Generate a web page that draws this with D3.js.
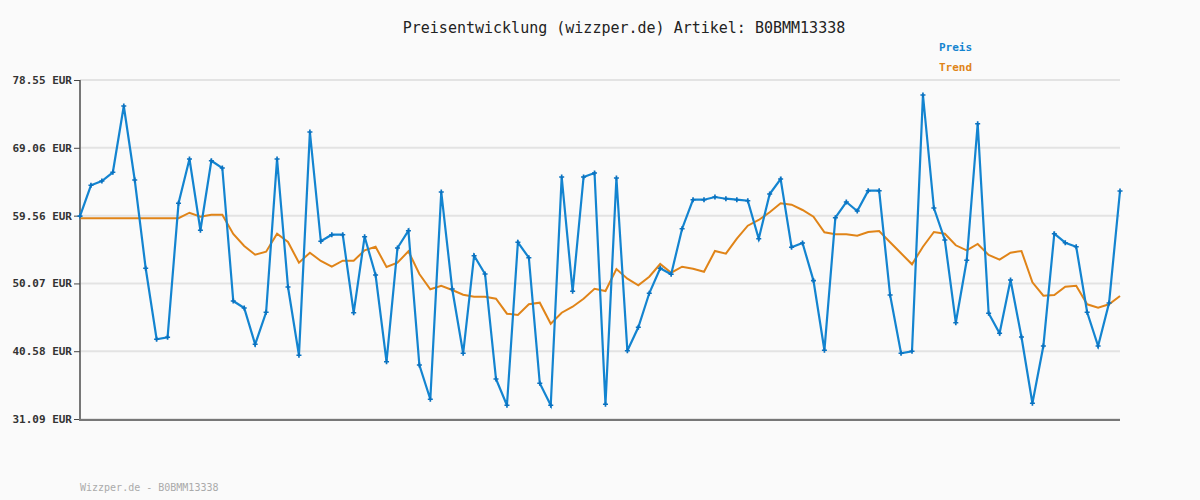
<!DOCTYPE html>
<html><head><meta charset="utf-8">
<script src="https://cdn.jsdelivr.net/npm/d3@7"></script>
<style>body{margin:0;background:#fafafa}</style>
</head><body><svg width="1200" height="500"></svg>
<script>
var preis = [59.5,63.81,64.41,65.63,74.91,64.55,52.19,42.25,42.53,61.29,67.49,57.51,67.25,66.23,47.61,46.63,41.55,46.03,67.49,49.57,
  40.01,71.27,55.97,56.89,56.89,45.97,56.61,51.25,39.11,55.03,57.45,38.65,33.85,62.87,49.29,40.29,53.95,51.39,36.69,33.01,
  55.83,53.67,36.09,33.01,64.97,48.97,64.97,65.53,33.15,64.83,40.65,43.93,48.69,52.19,51.35,57.73,61.79,61.79,62.17,61.93,
  61.79,61.65,56.33,62.59,64.69,55.13,55.73,50.47,40.71,59.27,61.47,60.21,63.05,63.05,48.45,40.29,40.57,76.45,60.63,56.15,
  44.57,53.31,72.43,45.89,43.09,50.55,42.57,33.29,41.31,57.03,55.77,55.21,46.03,41.31,47.33,63.01];
var trend = [59.2,59.2,59.2,59.2,59.2,59.2,59.2,59.2,59.2,59.2,59.97,59.41,59.69,59.69,56.99,55.31,54.09,54.51,57.03,55.87,
  52.97,54.37,53.21,52.41,53.25,53.25,54.71,55.21,52.37,52.97,54.57,51.39,49.25,49.75,49.15,48.49,48.21,48.21,47.93,45.83,
  45.65,47.15,47.37,44.43,45.97,46.81,47.93,49.33,49.01,52.09,50.73,49.81,51.01,52.79,51.57,52.41,52.13,51.71,54.61,54.23,
  56.33,58.15,58.95,60.03,61.29,61.09,60.35,59.41,57.23,56.95,56.95,56.75,57.27,57.41,55.83,54.29,52.75,55.21,57.27,57.03,
  55.41,54.71,55.59,54.05,53.39,54.37,54.61,50.23,48.35,48.45,49.61,49.75,47.15,46.67,47.15,48.31];
var yTicks = [31.09,40.58,50.07,59.56,69.06,78.55];
var artikel = "B0BMM13338";

var svg = d3.select("svg");
var font = "'DejaVu Sans Mono', monospace";
var x = d3.scaleLinear().domain([0, preis.length - 1]).range([80, 1120]);
var y = d3.scaleLinear().domain([31.09, 78.55]).range([419, 80]);

svg.append("g").selectAll("line").data(yTicks).enter().append("line")
  .attr("x1", 80).attr("x2", 1120).attr("y1", y).attr("y2", y)
  .style("stroke", "#e3e3e3").style("stroke-width", 2);

svg.append("g").attr("transform", "translate(80,0)")
  .call(d3.axisLeft(y).tickValues(yTicks).tickSize(6).tickPadding(2).tickFormat(function(d){ return d.toFixed(2) + " EUR"; }))
  .call(function(g){
    g.select(".domain").attr("stroke", "#777").attr("stroke-width", 2).attr("d", "M0,80V420");
    g.selectAll(".tick line").attr("stroke", "#444");
    g.selectAll("text").style("font-family", font).style("font-size", "11px").style("font-weight", "bold").attr("fill", "#333");
  });
svg.append("line").attr("x1", 79).attr("x2", 1120).attr("y1", 420).attr("y2", 420)
  .style("stroke", "#777").style("stroke-width", 2);

var line = function(arr){ return d3.line().x(function(d, i){ return x(i); }).y(function(d){ return y(d); })(arr); };
svg.append("path").attr("d", line(trend)).attr("fill", "none").style("stroke", "#e08418").style("stroke-width", 2);
svg.append("path").attr("d", line(preis)).attr("fill", "none").style("stroke", "#1384d0").style("stroke-width", 2.2);
svg.append("g").selectAll("path").data(preis).enter().append("path")
  .attr("d", d3.symbol().type(d3.symbolCross).size(14))
  .attr("transform", function(d, i){ return "translate(" + x(i) + "," + y(d) + ")"; })
  .attr("fill", "#0a72c0");

svg.append("text").attr("x", 624).attr("y", 33).attr("text-anchor", "middle")
  .style("font-family", font).style("font-size", "15px").attr("fill", "#222")
  .text("Preisentwicklung (wizzper.de) Artikel: " + artikel);
svg.append("text").attr("x", 939).attr("y", 51).style("font-family", font).style("font-size", "11px")
  .style("font-weight", "bold").attr("fill", "#1384d0").text("Preis");
svg.append("text").attr("x", 939).attr("y", 71).style("font-family", font).style("font-size", "11px")
  .style("font-weight", "bold").attr("fill", "#e08418").text("Trend");
svg.append("text").attr("x", 80).attr("y", 491).style("font-family", font).style("font-size", "10px")
  .attr("fill", "#aaa").text("Wizzper.de - " + artikel);
</script></body></html>
